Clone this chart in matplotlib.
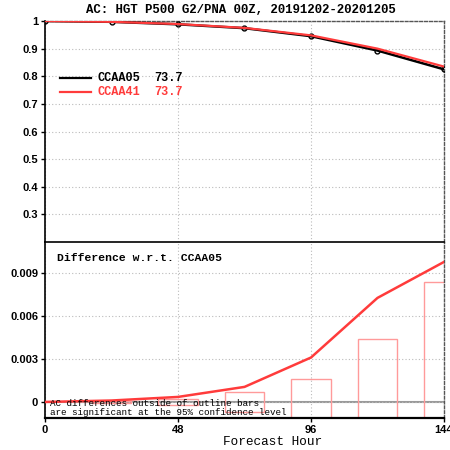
import matplotlib
matplotlib.use("Agg")
import matplotlib.pyplot as plt
from matplotlib.patches import Rectangle

# Forecast hours and anomaly correlation scores
hours = [0, 24, 48, 72, 96, 120, 144]
ac_ccaa05 = [1.000, 0.997, 0.988, 0.974, 0.945, 0.893, 0.825]
ac_ccaa41 = [1.000, 0.997, 0.989, 0.975, 0.948, 0.900, 0.835]
# Difference of CCAA41 relative to CCAA05
diff = [0.0, 0.0001, 0.00035, 0.00105, 0.0031, 0.00726, 0.00977]
# Half-widths of the 95% confidence bars
conf = [0.0, 0.00005, 0.0002, 0.0007, 0.0016, 0.0044, 0.00837]

names = ["CCAA05", "CCAA41"]
scores = ["73.7", "73.7"]
top_ticks = [0.3, 0.4, 0.5, 0.6, 0.7, 0.8, 0.9, 1.0]
top_labels = ["0.3", "0.4", "0.5", "0.6", "0.7", "0.8", "0.9", "1"]
bot_ticks = [0.0, 0.003, 0.006, 0.009]
bot_labels = ["0", "0.003", "0.006", "0.009"]
x_ticks = [0, 48, 96, 144]

RED = "#ff3b3b"
BAR = "#ff9a9a"
mono = "Liberation Mono"
sans = "Liberation Sans"

fig = plt.figure(figsize=(4.5, 4.5), dpi=100)
L, W = 45 / 450, (444 - 45) / 450
ax1 = fig.add_axes([L, 1 - 242 / 450, W, (242 - 21) / 450])
ax2 = fig.add_axes([L, 1 - 418 / 450, W, (418 - 242) / 450])

for ax in (ax1, ax2):
    ax.set_xlim(0, 144)
    ax.set_xticks(x_ticks)
    ax.grid(True, color="#bbbbbb", linestyle=(0, (1, 2)), linewidth=0.8)
    ax.tick_params(axis="both", direction="out", length=3, width=1,
                   labelsize=8, pad=2)
    for lab in ax.get_yticklabels() + ax.get_xticklabels():
        lab.set_fontfamily(sans)
        lab.set_fontweight("bold")
    ax.spines["left"].set_linewidth(1.2)
    for s in ("right", "top"):
        ax.spines[s].set_linestyle((0, (2, 1.5)))
        ax.spines[s].set_color("#555555")
        ax.spines[s].set_linewidth(1.0)

# Upper panel: AC scores
ax1.plot(hours, ac_ccaa05, color="black", lw=1.8, marker="o", ms=3.5,
         mfc="none", mec="black", mew=1.0, zorder=3)
ax1.plot(hours, ac_ccaa41, color=RED, lw=1.6, zorder=4)
ax1.set_ylim(0.2, 1.0)
ax1.set_yticks(top_ticks)
ax1.set_yticklabels(top_labels, fontfamily=sans, fontweight="bold", fontsize=8)
ax1.tick_params(axis="x", bottom=False, labelbottom=False)
ax1.spines["bottom"].set_visible(False)

# Legend drawn as short line segments with labels
for i, (nm, sc, col) in enumerate(zip(names, scores, ["black", RED])):
    yy = 0.795 - i * 0.052
    ax1.plot([5.5, 16.5], [yy, yy], color=col, lw=1.6, clip_on=False)
    ax1.text(18.8, yy, nm, color=col, fontfamily=mono, fontweight="bold",
             fontsize=8.6, va="center")
    ax1.text(39.5, yy, sc, color=col, fontfamily=mono, fontweight="bold",
             fontsize=8.6, va="center")

# Lower panel: difference and confidence bars
ax2.set_ylim(-0.00112, 0.01116)
ax2.axhline(0, color="#999999", lw=1.5, zorder=1)
bw = 14.4
for h, c in zip(hours, conf):
    if c > 0:
        ax2.add_patch(Rectangle((h - bw / 2, -c), bw, 2 * c, fill=False,
                                edgecolor=BAR, lw=1.0, zorder=2))
ax2.plot(hours, diff, color=RED, lw=1.8, zorder=4)
ax2.set_yticks(bot_ticks)
ax2.set_yticklabels(bot_labels, fontfamily=sans, fontweight="bold", fontsize=8)
ax2.spines["bottom"].set_linewidth(1.6)
ax2.spines["top"].set_linestyle("-")
ax2.spines["top"].set_color("black")
ax2.spines["top"].set_linewidth(1.2)

ax2.text(0.03, 0.91, "Difference w.r.t. CCAA05", transform=ax2.transAxes,
         fontfamily=mono, fontweight="bold", fontsize=8.2, va="center")
ax2.text(0.013, 0.058, "AC differences outside of outline bars\n"
         "are significant at the 95% confidence level",
         transform=ax2.transAxes, fontfamily=mono, fontsize=6.7,
         va="center", linespacing=0.95, zorder=5)

fig.text(241 / 450, 1 - 10 / 450, "AC: HGT P500 G2/PNA 00Z, 20191202-20201205",
         ha="center", va="center", fontfamily=mono, fontweight="bold",
         fontsize=8.9)
fig.text(273 / 450, 1 - 442 / 450, "Forecast Hour", ha="center", va="center",
         fontfamily=mono, fontsize=9.2)

fig.savefig("out.png", dpi=100)
